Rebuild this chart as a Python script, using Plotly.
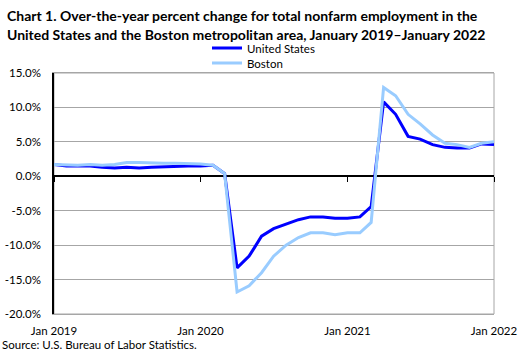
import pandas as pd
import plotly.graph_objects as go

months = pd.date_range("2019-01-01", "2022-01-01", freq="MS")

us_values = [1.7, 1.5, 1.5, 1.5, 1.3, 1.2, 1.3, 1.2, 1.3, 1.4, 1.4, 1.5,
             1.5, 1.6, 0.4, -13.3, -11.6, -8.7, -7.6, -6.9, -6.3, -5.9, -5.9, -6.1,
             -6.1, -5.9, -4.4, 10.8, 9.0, 5.8, 5.4, 4.6, 4.2, 4.1, 4.1, 4.7,
             4.6]
boston_values = [1.7, 1.6, 1.6, 1.7, 1.6, 1.7, 2.0, 2.0, 1.9, 1.9, 1.9, 1.9,
                 1.8, 1.6, 0.4, -16.8, -15.9, -14.0, -11.6, -10.0, -8.9, -8.2, -8.2, -8.5,
                 -8.2, -8.2, -6.7, 12.9, 11.7, 9.0, 7.6, 6.0, 4.8, 4.6, 4.2, 4.8,
                 5.0]

y_tickvals = [15, 10, 5, 0, -5, -10, -15, -20]
y_ticktext = ["15.0%", "10.0%", "5.0%", "0.0%", "-5.0%", "-10.0%", "-15.0%", "-20.0%"]
x_tickvals = ["2019-01-01", "2020-01-01", "2021-01-01", "2022-01-01"]
x_ticktext = ["Jan 2019", "Jan 2020", "Jan 2021", "Jan 2022"]

title_lines = ["Chart 1. Over-the-year percent change for total nonfarm employment in the",
               "United States and the Boston metropolitan area, January 2019\u2013January 2022"]
source_text = "Source: U.S. Bureau of Labor Statistics."

FONT = "Lato, 'Open Sans', sans-serif"
W, H = 528, 356
L, R, T, B = 54, 34, 73, 42
PW, PH = W - L - R, H - T - B

def px(x):
    return (x - L) / PW

def py(y):
    return (H - B - y) / PH

fig = go.Figure()
fig.add_trace(go.Scatter(x=months, y=us_values, mode="lines", name="United States",
                         line=dict(color="#0000FF", width=3), legend="legend"))
fig.add_trace(go.Scatter(x=months, y=boston_values, mode="lines", name="Boston",
                         line=dict(color="#99CCFF", width=3), legend="legend2"))

# tick marks on the zero line
fig.add_trace(go.Scatter(x=[months[0]], y=[None], xaxis="x2", showlegend=False, hoverinfo="skip"))

legend_common = dict(orientation="v", xref="container", yref="container",
                     xanchor="left", yanchor="middle",
                     bgcolor="rgba(0,0,0,0)", borderwidth=0,
                     font=dict(family=FONT, size=11.5, color="#000000"),
                     itemwidth=30)

fig.update_layout(
    width=W, height=H,
    margin=dict(l=L, r=R, t=T, b=B, pad=0, autoexpand=False),
    paper_bgcolor="white", plot_bgcolor="white",
    font=dict(family=FONT, size=11, color="#000000"),
    showlegend=True,
    legend=dict(x=207 / W, y=1 - 48 / H, **legend_common),
    legend2=dict(x=207 / W, y=1 - 63 / H, **legend_common),
    xaxis=dict(type="date", range=["2019-01-01", "2022-01-01"],
               tickvals=x_tickvals, ticktext=x_ticktext, tickangle=0,
               ticks="outside", ticklen=6, tickcolor="rgba(0,0,0,0)",
               showgrid=False, showline=True, linecolor="#A6A6A6", linewidth=1,
               mirror=True, zeroline=False, automargin=False,
               tickfont=dict(family=FONT, size=11.5, color="#000000")),
    xaxis2=dict(type="date", range=["2019-01-01", "2022-01-01"], overlaying="x",
                anchor="free", position=20 / 35, tickvals=x_tickvals,
                showticklabels=False, ticks="outside", ticklen=5, tickcolor="#000000",
                showgrid=False, showline=False, zeroline=False),
    yaxis=dict(range=[-20, 15], tickvals=y_tickvals, ticktext=y_ticktext,
               ticks="outside", ticklen=9, tickcolor="rgba(0,0,0,0)",
               showgrid=True, gridcolor="#A6A6A6", gridwidth=1,
               zeroline=True, zerolinecolor="#000000", zerolinewidth=1.5,
               showline=True, linecolor="#000000", linewidth=1.5, automargin=False,
               tickfont=dict(family=FONT, size=11.5, color="#000000")),
    shapes=[dict(type="rect", xref="paper", yref="paper", x0=0, x1=1, y0=0, y1=1,
                 line=dict(color="#A6A6A6", width=1), layer="below")],
    annotations=[
        dict(text="<b>" + title_lines[0] + "</b>", xref="paper", yref="paper",
             x=px(5), y=py(16), xanchor="left", yanchor="middle", showarrow=False,
             font=dict(family=FONT, size=14, color="#000000")),
        dict(text="<b>" + title_lines[1] + "</b>", xref="paper", yref="paper",
             x=px(5), y=py(35), xanchor="left", yanchor="middle", showarrow=False,
             font=dict(family=FONT, size=14, color="#000000")),
        dict(text=source_text, xref="paper", yref="paper",
             x=px(0), y=py(344), xanchor="left", yanchor="middle", showarrow=False,
             font=dict(family=FONT, size=11.5, color="#000000")),
    ],
)

fig.write_html("out.html", config={"displayModeBar": False},
               post_script="document.body.style.margin='0';")
